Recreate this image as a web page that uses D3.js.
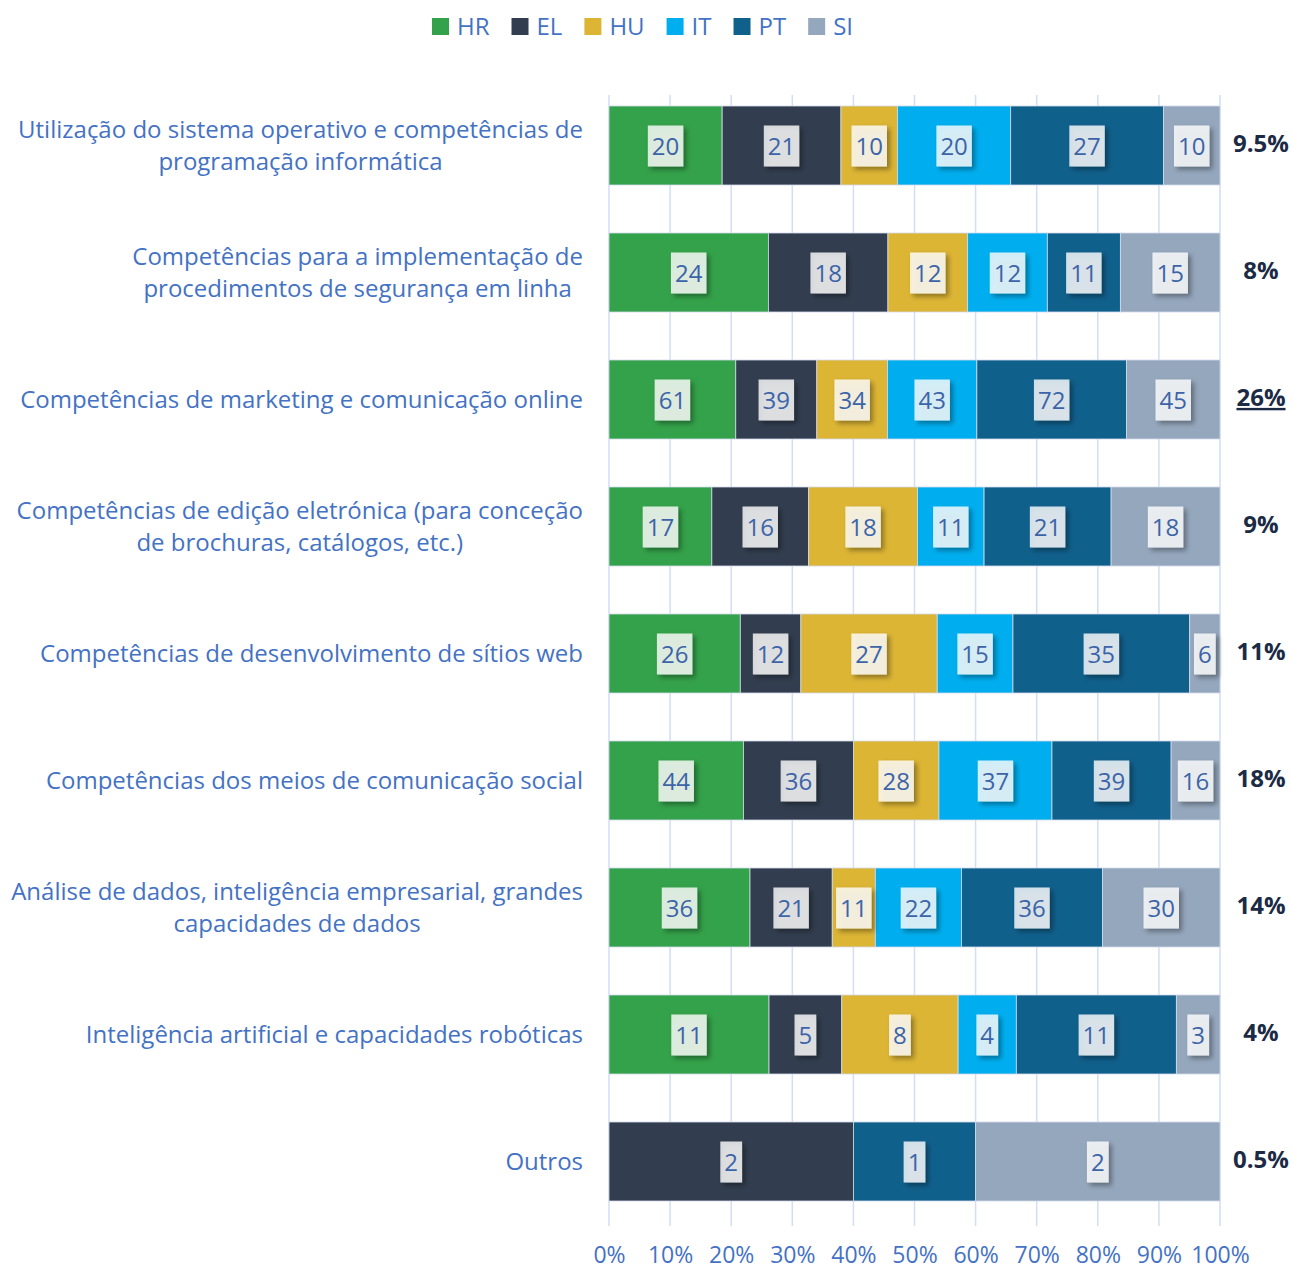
<!DOCTYPE html>
<html>
<head>
<meta charset="utf-8">
<script src="https://cdn.jsdelivr.net/npm/d3@7"></script>
<style>
  body { margin: 0; background: #fff; }
  svg { font-family: "Open Sans", sans-serif; }
</style>
</head>
<body>
<div id="chart"></div>
<script>
// categories (each entry is one line of the label)
const categories = [
  ["Utilização do sistema operativo e competências de", "programação informática"],
  ["Competências para a implementação de", "procedimentos de segurança em linha"],
  ["Competências de marketing e comunicação online"],
  ["Competências de edição eletrónica (para conceção", "de brochuras, catálogos, etc.)"],
  ["Competências de desenvolvimento de sítios web"],
  ["Competências dos meios de comunicação social"],
  ["Análise de dados, inteligência empresarial, grandes", "capacidades de dados"],
  ["Inteligência artificial e capacidades robóticas"],
  ["Outros"]
];
const seriesNames = ["HR", "EL", "HU", "IT", "PT", "SI"];
const seriesColors = ["#34a24a", "#323e4f", "#dcb535", "#00aeef", "#10608c", "#95a7bd"];

const HR = [20, 24, 61, 17, 26, 44, 36, 11, 0];
const EL = [21, 18, 39, 16, 12, 36, 21, 5, 2];
const HU = [10, 12, 34, 18, 27, 28, 11, 8, 0];
const IT = [20, 12, 43, 11, 15, 37, 22, 4, 0];
const PT = [27, 11, 72, 21, 35, 39, 36, 11, 1];
const SI = [10, 15, 45, 18, 6, 16, 30, 3, 2];
const totals = ["9.5%", "8%", "26%", "9%", "11%", "18%", "14%", "4%", "0.5%"];
const tickValues = [0, 0.1, 0.2, 0.3, 0.4, 0.5, 0.6, 0.7, 0.8, 0.9, 1];

const width = 1293, height = 1270;
const margin = { top: 106, left: 609, right: 73, bottom: 69 };
const blue = "#4472c4";

const svg = d3.select("#chart").append("svg")
  .attr("width", width)
  .attr("height", height);

const defs = svg.append("defs");
const shadow = defs.append("filter").attr("id", "shadow")
  .attr("x", "-30%").attr("y", "-30%").attr("width", "160%").attr("height", "160%");
shadow.append("feDropShadow")
  .attr("dx", 3).attr("dy", 3).attr("stdDeviation", 2.5)
  .attr("flood-color", "#000").attr("flood-opacity", 0.45);

// build stacked table
const table = categories.map((c, i) => {
  const row = { idx: i };
  const vals = [HR[i], EL[i], HU[i], IT[i], PT[i], SI[i]];
  const sum = d3.sum(vals);
  seriesNames.forEach((s, j) => { row[s] = vals[j] / sum; row[s + "_raw"] = vals[j]; });
  return row;
});
const stacked = d3.stack().keys(seriesNames)(table);

const x = d3.scaleLinear().domain([0, 1]).range([margin.left, width - margin.right]);
const y = d3.scaleBand().domain(d3.range(categories.length))
  .range([margin.top - 24, margin.top - 24 + 127 * categories.length])
  .paddingInner(48 / 127).paddingOuter(24 / 127);

// grid
svg.append("g").selectAll("line")
  .data(tickValues)
  .join("line")
  .attr("x1", d => x(d)).attr("x2", d => x(d))
  .attr("y1", 95).attr("y2", 1226)
  .attr("stroke", "#d3def2")
  .attr("stroke-width", 1.5);

// bars
const layers = svg.append("g").selectAll("g")
  .data(stacked)
  .join("g")
  .attr("fill", (d, i) => seriesColors[i]);

layers.selectAll("rect")
  .data(d => d.filter(p => p[1] - p[0] > 0))
  .join("rect")
  .attr("x", d => x(d[0]))
  .attr("y", d => y(d.data.idx))
  .attr("width", d => x(d[1]) - x(d[0]))
  .attr("height", y.bandwidth())
  .attr("stroke", "#d2daea")
  .attr("stroke-width", 0.8);

// value labels
const labelG = svg.append("g");
stacked.forEach((layer, j) => {
  layer.forEach(p => {
    const raw = p.data[seriesNames[j] + "_raw"];
    if (!raw) return;
    const cx = (x(p[0]) + x(p[1])) / 2;
    const cy = y(p.data.idx) + y.bandwidth() / 2;
    const g = labelG.append("g");
    const box = g.append("rect");
    const t = g.append("text")
      .attr("x", cx).attr("y", cy + 1)
      .attr("text-anchor", "middle")
      .attr("dy", "0.36em")
      .attr("font-size", 24)
      .attr("fill", "#3c64a8")
      .text(raw);
    const w = t.node().getComputedTextLength() + 8;
    box.attr("x", cx - w / 2).attr("y", cy - 20)
      .attr("width", w).attr("height", 41)
      .attr("fill", "#fff").attr("fill-opacity", 0.8)
      .attr("filter", "url(#shadow)");
  });
});

// category labels
const catG = svg.append("g");
categories.forEach((lines, i) => {
  const cy = y(i) + y.bandwidth() / 2;
  const t = catG.append("text")
    .attr("font-size", 24)
    .attr("fill", blue)
    .attr("text-anchor", "middle");
  lines.forEach((l, k) => {
    t.append("tspan").attr("x", 0)
      .attr("y", cy + (k - (lines.length - 1) / 2) * 32)
      .attr("dy", "0.35em")
      .text(l);
  });
  const w = d3.max(t.selectAll("tspan").nodes(), n => n.getComputedTextLength());
  t.selectAll("tspan").attr("x", 583 - w / 2);
});

// totals on the right
svg.append("g").selectAll("text")
  .data(totals)
  .join("text")
  .attr("x", 1261)
  .attr("y", (d, i) => y(i) + y.bandwidth() / 2 - 2)
  .attr("dy", "0.35em")
  .attr("text-anchor", "middle")
  .attr("font-size", 24)
  .attr("font-weight", "bold")
  .attr("fill", "#1c2b45")
  .attr("text-decoration", (d, i) => i === 2 ? "underline" : null)
  .text(d => d);

// x axis
const axis = svg.append("g")
  .attr("transform", `translate(0,${1226})`)
  .call(d3.axisBottom(x).tickValues(tickValues).tickFormat(d3.format(".0%")).tickSize(0).tickPadding(21));
axis.select(".domain").remove();
axis.selectAll("text")
  .attr("font-family", "Open Sans, sans-serif")
  .attr("font-size", 23)
  .attr("fill", blue);

// legend
const legend = svg.append("g");
let lx = 0;
seriesNames.forEach((s, i) => {
  const g = legend.append("g").attr("transform", `translate(${lx},0)`);
  g.append("rect").attr("x", 0).attr("y", 18).attr("width", 17).attr("height", 17)
    .attr("fill", seriesColors[i]);
  const t = g.append("text").attr("x", 25).attr("y", 26.5).attr("dy", "0.35em")
    .attr("font-size", 24).attr("fill", blue).text(s);
  lx += 25 + t.node().getComputedTextLength() + 22;
});
legend.attr("transform", `translate(${432},0)`);
</script>
</body>
</html>
